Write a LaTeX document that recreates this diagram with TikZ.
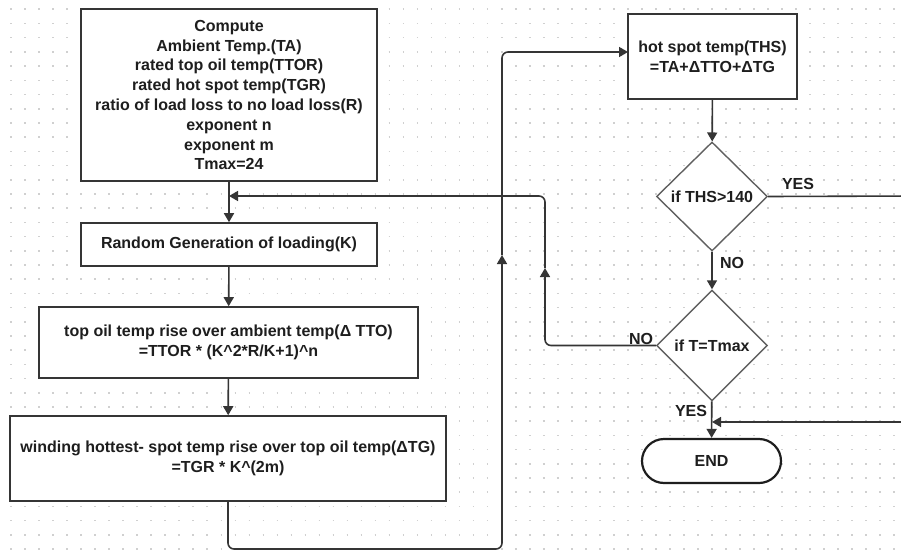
\documentclass[tikz,border=0pt]{standalone}
\usepackage{fontspec}
\setmainfont{Liberation Sans}
\usetikzlibrary{arrows.meta,shapes.geometric,shapes.misc}
\definecolor{ink}{HTML}{1E1E1E}
\definecolor{wire}{HTML}{353535}
\definecolor{rim}{HTML}{606060}
\definecolor{dotgray}{HTML}{D0D0D0}
\begin{document}
\begin{tikzpicture}[x=1pt,y=-1pt,
  every node/.style={font=\fontsize{16}{19.8}\selectfont\bfseries, text=ink},
  procbox/.style={draw=wire, line width=1.6pt, fill=white, align=center,
    inner sep=0pt, rectangle},
  decision/.style={draw=rim, line width=1.4pt, fill=white, diamond,
    inner sep=0pt, align=center},
  terminal/.style={draw=ink, line width=2.2pt, fill=white, rounded rectangle,
    inner sep=0pt},
  lbl/.style={inner sep=0pt},
  flow/.style={draw=wire, line width=1.6pt,
    -{Triangle[width=10pt,length=9pt]}},
  loop/.style={flow, rounded corners=6pt}]

% canvas and dotted grid
\useasboundingbox (0,0) rectangle (901,551);
\clip (0,0) rectangle (901,551);
\fill[white] (0,0) rectangle (901,551);
\foreach \k in {0,...,38}
  \draw[dotgray, line width=1.6pt, dash pattern=on 1.6pt off 12.42pt]
    (10.2,{9.3+14.2*\k}) -- (901,{9.3+14.2*\k});

% left column
\node[procbox, minimum width=296pt, minimum height=172pt] (init) at (229,95)
  {Compute\\Ambient Temp.(TA)\\rated top oil temp(TTOR)\\rated hot spot temp(TGR)\\
   ratio of load loss to no load loss(R)\\exponent n\\exponent m\\Tmax=24};
\node[procbox, minimum width=296pt, minimum height=43pt] (load) at (229,244.5)
  {Random Generation of loading(K)};
\node[procbox, minimum width=379pt, minimum height=71pt] (tto) at (228.5,342.5)
  {top oil temp rise over ambient temp(Δ TTO)\\=TTOR * (K\^{}2*R/K+1)\^{}n};
\node[procbox, minimum width=436pt, minimum height=85pt] (tg) at (228,458.5)
  {winding hottest- spot temp rise over top oil temp(ΔTG)\\=TGR * K\^{}(2m)};

% right column
\node[procbox, minimum width=169pt, minimum height=85pt] (ths) at (712.5,56.5)
  {hot spot temp(THS)\\=TA+ΔTTO+ΔTG};
\node[decision, minimum width=111pt, minimum height=109pt] (limit) at (712,196.5)
  {if THS>140};
\node[decision, minimum width=111pt, minimum height=111pt] (hour) at (712,345.5)
  {if T=Tmax};
\node[terminal, minimum width=139pt, minimum height=44pt] (stop) at (711.5,461)
  {END};

% branch labels
\node[lbl] (yes1) at (798,184) {YES};
\node[lbl] (no1) at (732,263) {NO};
\node[lbl] (no2) at (641,339) {NO};
\node[lbl] (yes2) at (691,411) {YES};

% routing points
\coordinate (merge) at (229,196);
\coordinate (backup) at (545,268);
\coordinate (feedb) at (502,549);
\coordinate (feedup) at (502,255);
\coordinate (thsin) at (628,52);
\coordinate (outr1) at (915,196);
\coordinate (outr2) at (915,422);
\coordinate (endin) at (712,422);

% straight connectors
\draw[flow] (init) -- (load);
\draw[flow] (load) -- (tto);
\draw[flow] (tto) -- (tg);
\draw[flow] (ths) -- (limit);
\draw[flow] (limit) -- (hour);
\draw[flow] (hour) -- (stop);

% loops
\draw[loop] (tg.south) |- (feedb) -- (feedup);
\draw[loop] (feedup) |- (thsin);
\draw[loop] (hour.west) -| (backup);
\draw[loop] (backup) |- (merge);
\draw[loop] (limit.east) -- (outr1) -- (outr2) -- (endin);
\end{tikzpicture}
\end{document}
